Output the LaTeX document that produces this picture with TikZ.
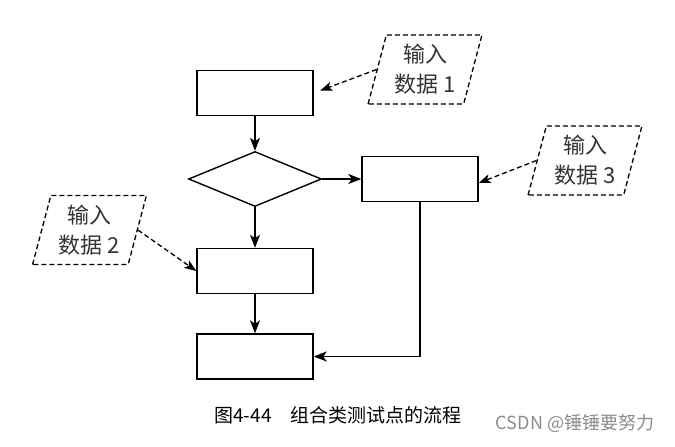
\documentclass[tikz,border=0pt]{standalone}
\usepackage{fontspec}
\setmainfont{Noto Sans CJK SC}
\usetikzlibrary{shapes.geometric,arrows.meta}

\begin{document}
\begin{tikzpicture}[x=1pt,y=-1pt,
    box/.style={draw,line width=1.4pt,minimum width=116pt,minimum height=45pt,inner sep=0pt},
    cond/.style={draw,diamond,line width=1.4pt,minimum width=133pt,minimum height=55pt,inner sep=0pt,aspect=2.4},
    indata/.style={draw,dash pattern=on 5pt off 3pt,line width=1.3pt,trapezium,
      trapezium left angle=74,trapezium right angle=106,trapezium stretches=true,
      minimum width=114pt,minimum height=69pt,inner sep=0pt,align=center,
      font=\fontsize{22}{30}\selectfont,text=black!80},
    flow/.style={-{Stealth[length=13pt,width=10pt,inset=3.5pt]},line width=1.4pt},
    feed/.style={-{Stealth[length=12pt,width=9pt,inset=3pt]},line width=1.3pt,dash pattern=on 5pt off 3pt}]
  \useasboundingbox (0,0) rectangle (675,447);
  \node[box] (a) at (255,93) {};
  \node[cond] (q) at (255,179) {};
  \node[box] (c) at (420,179) {};
  \node[box] (d) at (255,271) {};
  \node[box] (e) at (255,356.5) {};
  \node[indata] (in1) at (425,69.5) {输入\\数据 1};
  \node[indata] (in2) at (89.5,230) {输入\\数据 2};
  \node[indata] (in3) at (585,160.5) {输入\\数据 3};
  \begin{scope}[flow]
    \draw (a) -- (q);
    \draw (q) -- (c);
    \draw (q) -- (d);
    \draw (d) -- (e);
    \draw (c) |- (e);
  \end{scope}
  \begin{scope}[feed]
    \draw[shorten >=7pt] (in1.west) -- (a.east);
    \draw (in2.east) -- (d.west);
    \draw (in3.west) -- ([yshift=-4pt]c.east);
  \end{scope}
  \node (cap) at (338,415) {\fontsize{19}{19}\selectfont 图4-44\quad 组合类测试点的流程};
  \node[text=black!45] (mark) at (575,423) {\fontsize{18}{18}\selectfont CSDN @锤锤要努力};
\end{tikzpicture}
\end{document}
